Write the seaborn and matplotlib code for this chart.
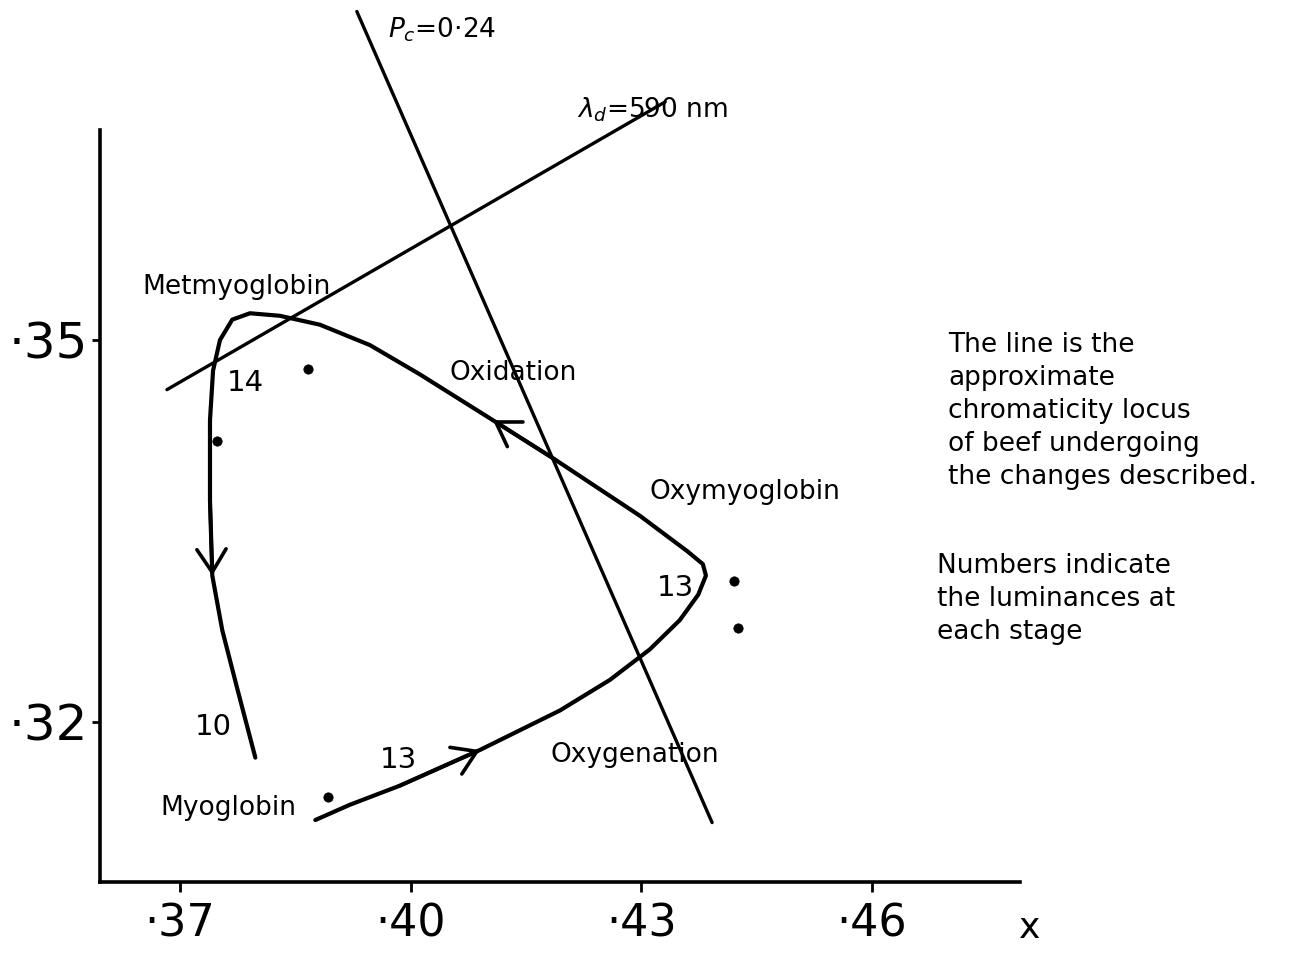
import matplotlib
matplotlib.use("Agg")
import matplotlib.pyplot as plt
import numpy as np
import pandas as pd
import seaborn as sns

# Chromaticity locus of beef: myoglobin -> oxymyoglobin -> metmyoglobin -> back down
locus_x = [0.3876, 0.3921, 0.3986, 0.4090, 0.4194, 0.4259, 0.4311, 0.4350, 0.4374,
           0.4384, 0.4380, 0.4360, 0.4298, 0.4188, 0.4107, 0.4012, 0.3947, 0.3882,
           0.3830, 0.3791, 0.3768, 0.3752, 0.3743, 0.3739, 0.3739, 0.3742, 0.3755,
           0.3775, 0.3798]
locus_y = [0.3123, 0.3135, 0.3150, 0.3178, 0.3209, 0.3233, 0.3257, 0.3280, 0.3300,
           0.3315, 0.3324, 0.3334, 0.3362, 0.3406, 0.3437, 0.3473, 0.3496, 0.3512,
           0.3519, 0.3521, 0.3516, 0.3500, 0.3476, 0.3437, 0.3374, 0.3315, 0.3272,
           0.3225, 0.3172]

# Arrow heads along the locus (index of the head point)
arrow_idx = [3, 14, 25]

# Constant purity and dominant wavelength lines (end points)
purity_x = [0.3930, 0.4392]
purity_y = [0.3758, 0.3121]
wavelength_x = [0.3683, 0.4331]
wavelength_y = [0.3461, 0.3687]

# Measured sample points
dots_x = [0.38665, 0.37481, 0.44205, 0.44257, 0.38925]
dots_y = [0.34772, 0.34207, 0.33107, 0.32738, 0.31411]

# Luminance at each stage
lum_labels = ["14", "13", "10", "13"]
lum_x = [0.37845, 0.43438, 0.37429, 0.39835]
lum_y = [0.34662, 0.33052, 0.31961, 0.31702]

# Stage / process names
stage_labels = ["Metmyoglobin", "Oxidation", "Oxymyoglobin", "Myoglobin", "Oxygenation"]
stage_x = [0.37741, 0.41331, 0.44348, 0.37624, 0.42918]
stage_y = [0.35416, 0.34741, 0.33806, 0.31325, 0.31741]

x_ticks = [0.37, 0.40, 0.43, 0.46]
x_tick_labels = ["·37", "·40", "·43", "·46"]
y_ticks = [0.32, 0.35]
y_tick_labels = ["·32", "·35"]

note1 = "The line is the\napproximate\nchromaticity locus\nof beef undergoing\nthe changes described."
note2 = "Numbers indicate\nthe luminances at\neach stage"

sns.set_theme(style="white")
plt.rcParams["font.family"] = ["DejaVu Sans"]

fig = plt.figure(figsize=(12.91, 9.66), dpi=100)
ax = fig.add_axes([0.07746, 0.08696, 0.71263, 0.90787])
ax.set_xlim(0.359596, 0.479247)
ax.set_ylim(0.307433, 0.37631)

ink = "black"
locus = pd.DataFrame({"x": locus_x, "y": locus_y})
sns.lineplot(data=locus, x="x", y="y", sort=False, estimator=None, color=ink,
             linewidth=3.0, ax=ax, solid_capstyle="round", solid_joinstyle="round")

sns.lineplot(x=purity_x, y=purity_y, sort=False, estimator=None, color=ink,
             linewidth=2.4, ax=ax)
sns.lineplot(x=wavelength_x, y=wavelength_y, sort=False, estimator=None, color=ink,
             linewidth=2.4, ax=ax)

for i in arrow_idx:
    ax.annotate("", xy=(locus_x[i], locus_y[i]), xytext=(locus_x[i - 1], locus_y[i - 1]),
                arrowprops=dict(arrowstyle="->,head_length=0.55,head_width=0.35",
                                color=ink, lw=2.6, mutation_scale=30,
                                shrinkA=0, shrinkB=0))

sns.scatterplot(x=dots_x, y=dots_y, color=ink, s=45, edgecolor=ink, ax=ax, zorder=3)

for t, x, y in zip(lum_labels, lum_x, lum_y):
    ax.text(x, y, t, fontsize=21, ha="center", va="center", color=ink)
for t, x, y in zip(stage_labels, stage_x, stage_y):
    ax.text(x, y, t, fontsize=19, ha="center", va="center", color=ink)

ax.text(0.40407, 0.37435, r"$P_c$=0·24", fontsize=19, ha="center", va="center", color=ink)
ax.text(0.43139, 0.36806, r"$\lambda_d$=590 nm", fontsize=19, ha="center", va="center", color=ink)

fig.text(948 / 1291, 1 - 332 / 966, note1, fontsize=19, ha="left", va="top",
         linespacing=1.35, color=ink)
fig.text(937 / 1291, 1 - 553 / 966, note2, fontsize=19, ha="left", va="top",
         linespacing=1.35, color=ink)

# Axes: only left and bottom, left one stopping short of the top
for side in ("top", "right"):
    ax.spines[side].set_visible(False)
for side in ("left", "bottom"):
    ax.spines[side].set_color(ink)
    ax.spines[side].set_linewidth(2.6)
ax.spines["left"].set_bounds(0.307433, 0.36649)

ax.set_xticks(x_ticks)
ax.set_xticklabels(x_tick_labels, fontsize=32)
ax.set_yticks(y_ticks)
ax.set_yticklabels(y_tick_labels, fontsize=36)
ax.tick_params(axis="x", direction="out", length=7, width=2, color=ink, pad=8,
               bottom=True, labelcolor=ink)
ax.tick_params(axis="y", direction="out", length=6, width=2, color=ink, pad=3,
               left=True, labelcolor=ink)
ax.set_xlabel("")
ax.set_ylabel("")
ax.text(1030 / 1291, 1 - 928 / 966, "x", transform=fig.transFigure, fontsize=26,
        ha="center", va="center", color=ink)

fig.savefig("out.png", dpi=100, facecolor="white")
